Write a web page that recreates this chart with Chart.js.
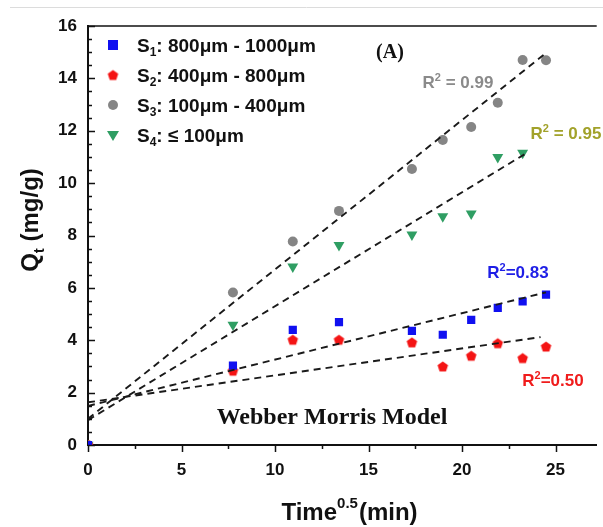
<!DOCTYPE html>
<html lang="en">
<head>
    <meta charset="UTF-8">
    <title>Webber Morris Model</title>
    <script src="https://cdn.jsdelivr.net/npm/chart.js"></script>
    <style>
        body { margin: 0; background: #fff; }
    </style>
</head>
<body>
    <canvas id="wmChart" width="603" height="527"></canvas>
    <script>
        // sqrt(t) values, min^0.5
        const times = [0, 7.75, 10.95, 13.42, 17.32, 18.97, 20.49, 21.91, 23.24, 24.49];
        const s1 = [0, 3.03, 4.40, 4.69, 4.36, 4.21, 4.78, 5.24, 5.48, 5.74];
        const s2 = [0, 2.84, 4.02, 4.02, 3.92, 3.00, 3.41, 3.89, 3.32, 3.76];
        const s3 = [0, 5.82, 7.77, 8.94, 10.54, 11.65, 12.14, 13.07, 14.70, 14.69];
        const s4 = [0, 4.59, 6.81, 7.63, 8.03, 8.73, 8.83, 10.99, 11.15];

        // linear fits (start / end)
        const fitS1X = [0, 24.49], fitS1Y = [1.49, 5.83];
        const fitS2X = [0, 24.2],  fitS2Y = [1.63, 4.12];
        const fitS3X = [0, 24.49], fitS3Y = [1.00, 14.97];
        const fitS4X = [0, 23.45], fitS4Y = [0.95, 11.15];

        const legendLabels = [
            { sub: '1', text: ': 800μm - 1000μm' },
            { sub: '2', text: ': 400μm - 800μm' },
            { sub: '3', text: ': 100μm - 400μm' },
            { sub: '4', text: ': ≤ 100μm' }
        ];

        const BLUE = '#1010f0', RED = '#f41414', GRAY = '#858585', GREEN = '#2f9e63';

        function pts(xs, ys) {
            return ys.map((v, i) => ({ x: xs[i], y: v }));
        }

        function pentagon(color, r) {
            const c = document.createElement('canvas');
            const s = Math.ceil(r * 2 + 2);
            c.width = c.height = s;
            const g = c.getContext('2d');
            g.fillStyle = color;
            g.beginPath();
            for (let i = 0; i < 5; i++) {
                const a = -Math.PI / 2 + i * 2 * Math.PI / 5;
                g.lineTo(s / 2 + r * Math.cos(a), s / 2 + 0.5 + r * Math.sin(a));
            }
            g.closePath();
            g.fill();
            return c;
        }
        const pentaRed = pentagon(RED, 5.5);

        function fitLine(xs, ys) {
            return {
                data: pts(xs, ys),
                showLine: true,
                borderColor: '#1a1a1a',
                borderWidth: 1.9,
                borderDash: [7, 5],
                pointRadius: 0,
                fill: false
            };
        }

        function drawMarker(ctx, kind, x, y) {
            ctx.save();
            ctx.beginPath();
            if (kind === 0) {
                ctx.fillStyle = BLUE;
                ctx.fillRect(x - 5, y - 5, 10, 10);
            } else if (kind === 1) {
                ctx.drawImage(pentaRed, x - pentaRed.width / 2, y - pentaRed.height / 2);
            } else if (kind === 2) {
                ctx.fillStyle = GRAY;
                ctx.arc(x, y, 5, 0, Math.PI * 2);
                ctx.fill();
            } else {
                ctx.fillStyle = GREEN;
                ctx.moveTo(x - 6, y - 4);
                ctx.lineTo(x + 6, y - 4);
                ctx.lineTo(x, y + 6);
                ctx.closePath();
                ctx.fill();
            }
            ctx.restore();
        }

        // R² label with a real superscript, centred on (cx, cy)
        function rLabel(ctx, rest, cx, cy, color) {
            ctx.save();
            ctx.fillStyle = color;
            ctx.textAlign = 'left';
            ctx.textBaseline = 'alphabetic';
            ctx.font = 'bold 17px "Liberation Sans", Arial';
            const wR = ctx.measureText('R').width;
            const wRest = ctx.measureText(rest).width;
            ctx.font = 'bold 11px "Liberation Sans", Arial';
            const w2 = ctx.measureText('2').width;
            let x = cx - (wR + w2 + wRest) / 2;
            const base = cy + 6;
            ctx.font = 'bold 17px "Liberation Sans", Arial';
            ctx.fillText('R', x, base);
            ctx.font = 'bold 11px "Liberation Sans", Arial';
            ctx.fillText('2', x + wR, base - 7);
            ctx.font = 'bold 17px "Liberation Sans", Arial';
            ctx.fillText(rest, x + wR + w2, base);
            ctx.restore();
        }

        const decorations = {
            id: 'decorations',
            beforeDraw(chart) {
                const ctx = chart.ctx;
                ctx.save();
                ctx.strokeStyle = '#dcdcdc';
                ctx.lineWidth = 1;
                ctx.beginPath();
                ctx.moveTo(10, 7.5);
                ctx.lineTo(603, 7.5);
                ctx.stroke();
                ctx.restore();
            },
            afterDraw(chart) {
                const ctx = chart.ctx;
                const { left, right, top, bottom } = chart.chartArea;
                const xs = chart.scales.x, ys = chart.scales.y;
                ctx.save();
                ctx.strokeStyle = '#111';
                ctx.lineWidth = 1.5;

                // frame top
                ctx.beginPath();
                ctx.moveTo(left, top);
                ctx.lineTo(right, top);
                ctx.stroke();

                // y ticks (inside)
                ctx.beginPath();
                for (let v = 0; v <= 16; v += 0.5) {
                    const py = Math.round(ys.getPixelForValue(v)) + 0.5;
                    const len = v % 2 === 0 ? 7 : 4;
                    ctx.moveTo(left, py);
                    ctx.lineTo(left + len, py);
                }
                // x ticks (outside)
                for (let v = 0; v <= 27; v += 2.5) {
                    const px = Math.round(xs.getPixelForValue(v)) + 0.5;
                    const len = v % 5 === 0 ? 7 : 4;
                    ctx.moveTo(px, bottom);
                    ctx.lineTo(px, bottom + len);
                }
                ctx.stroke();

                ctx.fillStyle = '#111';
                ctx.textBaseline = 'alphabetic';

                // x title
                ctx.font = 'bold 24px "Liberation Sans", Arial';
                const wT = ctx.measureText('Time').width;
                const wM = ctx.measureText('(min)').width;
                ctx.font = 'bold 15px "Liberation Sans", Arial';
                const wS = ctx.measureText('0.5').width;
                let tx = 349 - (wT + wS + wM) / 2;
                ctx.textAlign = 'left';
                ctx.font = 'bold 24px "Liberation Sans", Arial';
                ctx.fillText('Time', tx, 520);
                ctx.font = 'bold 15px "Liberation Sans", Arial';
                ctx.fillText('0.5', tx + wT, 508);
                ctx.font = 'bold 24px "Liberation Sans", Arial';
                ctx.fillText('(min)', tx + wT + wS + 1, 520);

                // y title
                ctx.save();
                ctx.translate(38, 220);
                ctx.rotate(-Math.PI / 2);
                ctx.font = 'bold 24px "Liberation Sans", Arial';
                const wQ = ctx.measureText('Q').width;
                const wR = ctx.measureText(' (mg/g)').width;
                ctx.font = 'bold 15px "Liberation Sans", Arial';
                const wt = ctx.measureText('t').width;
                let qx = -(wQ + wt + wR) / 2;
                ctx.font = 'bold 24px "Liberation Sans", Arial';
                ctx.fillText('Q', qx, 0);
                ctx.font = 'bold 15px "Liberation Sans", Arial';
                ctx.fillText('t', qx + wQ, 6);
                ctx.font = 'bold 24px "Liberation Sans", Arial';
                ctx.fillText(' (mg/g)', qx + wQ + wt, 0);
                ctx.restore();

                // legend
                legendLabels.forEach((l, i) => {
                    const cy = 45 + i * 30;
                    drawMarker(ctx, i, 113, cy);
                    ctx.fillStyle = '#111';
                    ctx.font = 'bold 19px "Liberation Sans", Arial';
                    ctx.fillText('S', 137, cy + 7);
                    const wSs = ctx.measureText('S').width;
                    ctx.font = 'bold 12px "Liberation Sans", Arial';
                    ctx.fillText(l.sub, 137 + wSs, cy + 11);
                    const wSub = ctx.measureText(l.sub).width;
                    ctx.font = 'bold 19px "Liberation Sans", Arial';
                    ctx.fillText(l.text, 137 + wSs + wSub, cy + 7);
                });

                // annotations
                rLabel(ctx, ' = 0.99', 458, 82, '#8a8a8a');
                rLabel(ctx, ' = 0.95', 566, 133, '#a2a22a');
                rLabel(ctx, '=0.83', 518, 272, '#1e1ee6');
                rLabel(ctx, '=0.50', 553, 380, '#f01c1c');

                ctx.textAlign = 'center';
                ctx.textBaseline = 'middle';
                ctx.fillStyle = '#111';
                ctx.font = 'bold 24px "Liberation Serif", "Times New Roman"';
                ctx.fillText('Webber Morris Model', 332, 418);
                ctx.font = 'bold 20px "Liberation Serif", "Times New Roman"';
                ctx.fillText('(A)', 390, 53);
                ctx.restore();
            }
        };

        const ctx = document.getElementById('wmChart').getContext('2d');
        new Chart(ctx, {
            type: 'scatter',
            data: {
                datasets: [
                    fitLine(fitS1X, fitS1Y),
                    fitLine(fitS2X, fitS2Y),
                    fitLine(fitS3X, fitS3Y),
                    fitLine(fitS4X, fitS4Y),
                    {
                        label: 'S1: 800μm - 1000μm',
                        data: pts(times, s1),
                        pointStyle: 'rect',
                        pointRadius: 5.8,
                        backgroundColor: BLUE,
                        borderWidth: 0
                    },
                    {
                        label: 'S2: 400μm - 800μm',
                        data: pts(times, s2),
                        pointStyle: pentaRed,
                        backgroundColor: RED,
                        borderWidth: 0
                    },
                    {
                        label: 'S3: 100μm - 400μm',
                        data: pts(times, s3),
                        pointStyle: 'circle',
                        pointRadius: 5,
                        backgroundColor: GRAY,
                        borderWidth: 0
                    },
                    {
                        label: 'S4: ≤ 100μm',
                        data: pts(times, s4),
                        pointStyle: 'triangle',
                        rotation: 180,
                        pointRadius: 6.3,
                        backgroundColor: GREEN,
                        borderWidth: 0
                    }
                ]
            },
            options: {
                responsive: false,
                animation: false,
                layout: { padding: { top: 26, left: 0, right: 0, bottom: 0 } },
                plugins: {
                    legend: { display: false },
                    tooltip: { enabled: false }
                },
                scales: {
                    x: {
                        type: 'linear',
                        min: 0,
                        max: 27.2,
                        grid: { display: false, drawTicks: false },
                        border: { color: '#111', width: 2 },
                        ticks: {
                            stepSize: 5,
                            includeBounds: false,
                            padding: 15,
                            color: '#111',
                            font: { family: '"Liberation Sans", Arial', size: 17, weight: 'bold' }
                        },
                        afterFit: s => { s.height = 82; }
                    },
                    y: {
                        min: 0,
                        max: 16,
                        grid: { display: false, drawTicks: false },
                        border: { color: '#111', width: 2 },
                        ticks: {
                            stepSize: 2,
                            padding: 11,
                            color: '#111',
                            font: { family: '"Liberation Sans", Arial', size: 17, weight: 'bold' }
                        },
                        afterFit: s => { s.width = 88; }
                    }
                }
            },
            plugins: [decorations]
        });
    </script>
</body>
</html>
